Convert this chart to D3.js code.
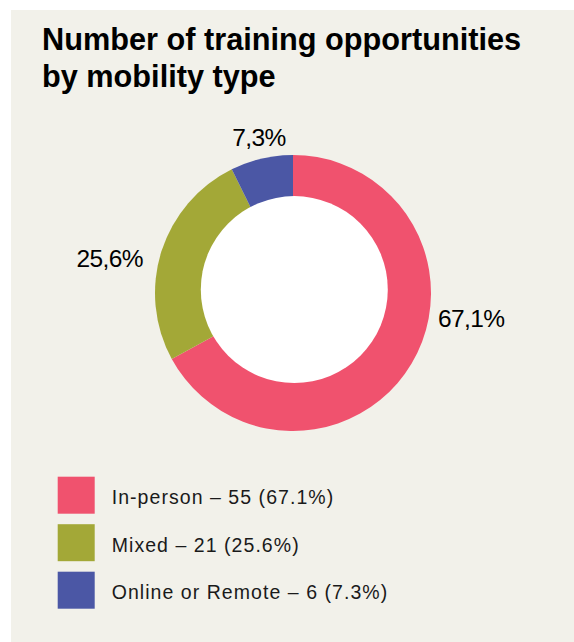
<!DOCTYPE html>
<html>
<head>
<meta charset="utf-8">
<script src="https://cdn.jsdelivr.net/npm/d3@7"></script>
<style>
  html, body { margin: 0; padding: 0; background: #ffffff; }
  svg { display: block; }
</style>
</head>
<body>
<script>
// Training opportunities by mobility type
const categories = ["In-person", "Mixed", "Online or Remote"];
const counts = [55, 21, 6];
const shareLabels = ["67,1%", "25,6%", "7,3%"];
const legendLabels = ["In-person – 55 (67.1%)", "Mixed – 21 (25.6%)", "Online or Remote – 6 (7.3%)"];
const colors = ["#f0526e", "#a3a837", "#4b57a5"];

const W = 574, H = 642;
const svg = d3.select("body").append("svg").attr("width", W).attr("height", H);

// beige card
svg.append("rect")
  .attr("x", 11).attr("y", 10)
  .attr("width", W - 11).attr("height", H - 10)
  .attr("fill", "#f2f1ea");

// title
const title = svg.append("text")
  .attr("font-family", "Liberation Sans, Arial, sans-serif")
  .attr("font-weight", "bold")
  .attr("font-size", 30.7)
  .attr("fill", "#000");
title.append("tspan").attr("x", 42).attr("y", 50).text("Number of training opportunities");
title.append("tspan").attr("x", 42).attr("y", 87).text("by mobility type");

// donut
const cx = 293, cy = 293, outerR = 138;
const pie = d3.pie().sort(null).value(d => d.value).startAngle(0).endAngle(2 * Math.PI);
const data = categories.map((c, i) => ({ name: c, value: counts[i], color: colors[i], share: shareLabels[i] }));
const arcs = pie(data);
const arc = d3.arc().innerRadius(0).outerRadius(outerR);

const g = svg.append("g").attr("transform", `translate(${cx},${cy})`);
g.selectAll("path").data(arcs).join("path")
  .attr("d", arc)
  .attr("fill", d => d.data.color);

// white hole
svg.append("circle")
  .attr("cx", 294.3).attr("cy", 289.6).attr("r", 93.5)
  .attr("fill", "#ffffff");

// share labels placed around the ring
const labelPlacement = [
  { x: 438, y: 327, anchor: "start" },
  { x: 143, y: 267, anchor: "end" },
  { x: 259, y: 146, anchor: "middle" }
];
svg.selectAll("text.share").data(arcs).join("text")
  .attr("class", "share")
  .attr("x", (d, i) => labelPlacement[i].x)
  .attr("y", (d, i) => labelPlacement[i].y)
  .attr("text-anchor", (d, i) => labelPlacement[i].anchor)
  .attr("font-family", "Liberation Sans, Arial, sans-serif")
  .attr("font-size", 24.5)
  .attr("letter-spacing", -0.6)
  .attr("fill", "#000")
  .text(d => d.data.share);

// legend
const legend = svg.append("g").attr("transform", "translate(57.7,476.7)");
const rows = legend.selectAll("g").data(data).join("g")
  .attr("transform", (d, i) => `translate(0,${i * 47.5})`);
rows.append("rect")
  .attr("width", 37).attr("height", 37)
  .attr("fill", d => d.color);
rows.append("text")
  .attr("x", 54).attr("y", 27.6)
  .attr("font-family", "Liberation Sans, Arial, sans-serif")
  .attr("font-size", 19.5)
  .attr("letter-spacing", 1.05)
  .attr("fill", "#1a1a1a")
  .text((d, i) => legendLabels[i]);
</script>
</body>
</html>
